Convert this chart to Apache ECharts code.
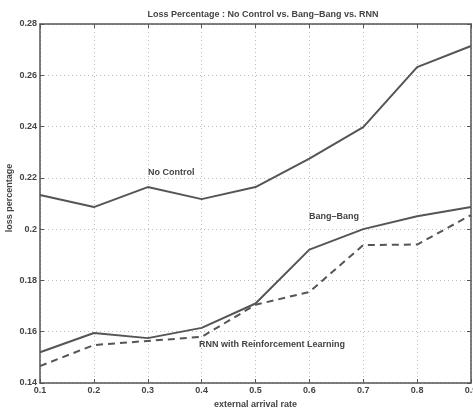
<!DOCTYPE html>
<html>
<head>
<meta charset="utf-8">
<script src="https://cdn.jsdelivr.net/npm/echarts@6/dist/echarts.min.js"></script>
<style>
  html, body { margin: 0; padding: 0; background: #fff; }
  #chart { width: 473px; height: 411px; }
</style>
</head>
<body>
<div id="chart"></div>
<script>
const rates = ['0.1', '0.2', '0.3', '0.4', '0.5', '0.6', '0.7', '0.8', '0.9']
const noControl = [0.2133, 0.2086, 0.2164, 0.2117, 0.2164, 0.2275, 0.2398, 0.2632, 0.2714]
const bangBang = [0.152, 0.1595, 0.1575, 0.1615, 0.171, 0.192, 0.2, 0.205, 0.2086]
const rnn = [0.1466, 0.1548, 0.1564, 0.158, 0.1705, 0.1755, 0.1938, 0.194, 0.2055]

const font = 'Liberation Sans'
const ink = '#444'

const chart = echarts.init(document.getElementById('chart'))

const gridLine = { show: true, lineStyle: { color: '#bbb', type: [1, 3], width: 1 } }
const frame = { show: true, lineStyle: { color: '#555', width: 1.5 } }
const ticks = { show: true, inside: true, length: 4, lineStyle: { color: '#555' } }

chart.setOption({
  animation: false,
  title: {
    text: 'Loss Percentage : No Control vs. Bang\u2013Bang vs. RNN',
    left: 258,
    top: 5,
    textAlign: 'center',
    textStyle: { fontFamily: font, fontSize: 9, fontWeight: 'bold', color: ink }
  },
  grid: { left: 40, right: 2, top: 24, bottom: 28, outerBoundsMode: 'none', containLabel: false },
  xAxis: [{
    type: 'category',
    data: rates,
    boundaryGap: false,
    name: 'external arrival rate',
    nameLocation: 'middle',
    nameGap: 17,
    nameTextStyle: { fontFamily: font, fontSize: 9, fontWeight: 'bold', color: ink },
    axisLine: frame,
    axisTick: ticks,
    axisLabel: { fontFamily: font, fontSize: 9, fontWeight: 'bold', color: ink, margin: 3, showMaxLabel: true },
    splitLine: gridLine
  }, {
    type: 'category',
    data: rates,
    boundaryGap: false,
    position: 'top',
    axisLine: frame,
    axisTick: ticks,
    axisLabel: { show: false },
    splitLine: { show: false }
  }],
  yAxis: [{
    type: 'value',
    min: 0.14,
    max: 0.28,
    interval: 0.02,
    axisLine: frame,
    axisTick: ticks,
    axisLabel: {
      fontFamily: font, fontSize: 9, fontWeight: 'bold', color: ink, margin: 3,
      formatter: v => String(parseFloat(v.toFixed(2)))
    },
    splitLine: gridLine
  }, {
    type: 'value',
    min: 0.14,
    max: 0.28,
    interval: 0.02,
    position: 'right',
    axisLine: frame,
    axisTick: ticks,
    axisLabel: { show: false },
    splitLine: { show: false }
  }],
  series: [{
    name: 'No Control',
    type: 'line',
    data: noControl,
    symbol: 'none',
    lineStyle: { color: '#555', width: 2 }
  }, {
    name: 'Bang-Bang',
    type: 'line',
    data: bangBang,
    symbol: 'none',
    lineStyle: { color: '#555', width: 2 }
  }, {
    name: 'RNN',
    type: 'line',
    data: rnn,
    symbol: 'none',
    lineStyle: { color: '#555', width: 2, type: [7, 5] }
  }],
  graphic: [
    { type: 'text', left: 148, top: 168, style: { text: 'No Control', font: 'bold 9px ' + font, fill: ink } },
    { type: 'text', left: 309, top: 212, style: { text: 'Bang\u2013Bang', font: 'bold 9px ' + font, fill: ink } },
    { type: 'text', left: 199, top: 340, style: { text: 'RNN with Reinforcement Learning', font: 'bold 9px ' + font, fill: ink } },
    {
      type: 'text', x: 10, y: 198, rotation: Math.PI / 2,
      style: { text: 'loss percentage', font: 'bold 9px ' + font, fill: ink, align: 'center', verticalAlign: 'middle' }
    }
  ]
})
</script>
</body>
</html>
